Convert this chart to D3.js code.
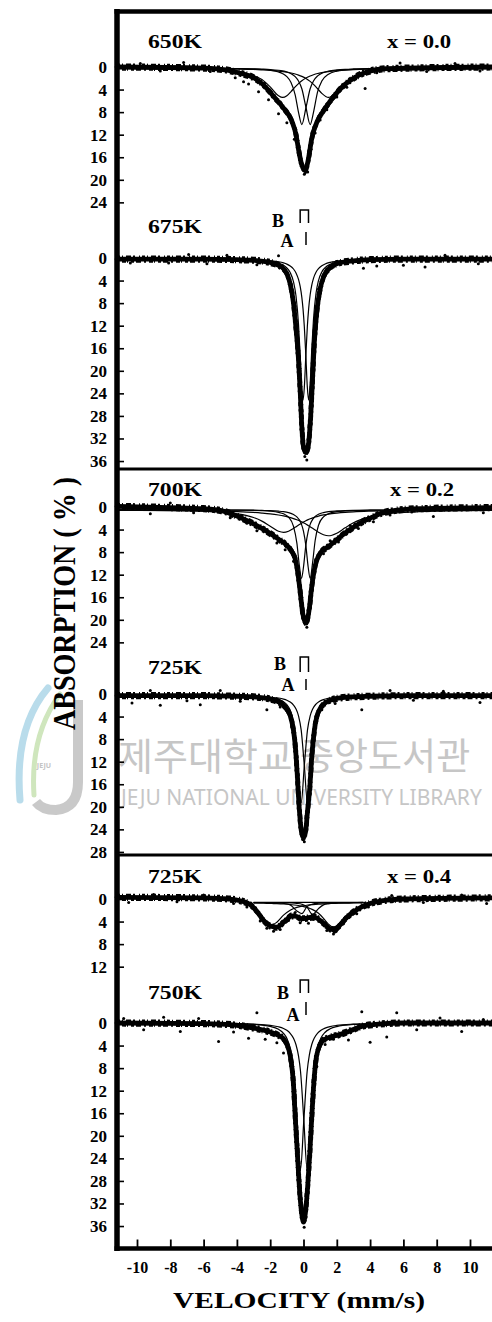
<!DOCTYPE html>
<html><head><meta charset="utf-8">
<script src="https://cdn.jsdelivr.net/npm/d3@7"></script>
<style>
html,body{margin:0;padding:0;background:#fff;}
svg{display:block;}
text{font-family:"Liberation Serif","Times New Roman",serif;font-weight:bold;fill:#000;}
</style></head><body>
<svg id="chart" width="492" height="1322"></svg>
<script>
// ---------------- DATA ----------------
const velocityTicks = [-10,-8,-6,-4,-2,0,2,4,6,8,10];
const tempLabels = ["650K","675K","700K","725K","725K","750K"];
const compLabels = ["x = 0.0","x = 0.2","x = 0.4"];
const p1Ticks = [0,4,8,12,16,20,24];
const p2Ticks = [0,4,8,12,16,20,24,28,32,36];
const p3Ticks = [0,4,8,12,16,20,24];
const p4Ticks = [0,4,8,12,16,20,24,28];
const p5Ticks = [0,4,8,12];
const p6Ticks = [0,4,8,12,16,20,24,28,32,36];

// Panel 1: 650K, x = 0.0
const p1TotalV = [-11.2,-6,-4.5,-3.8,-3,-2.4,-1.8,-1.2,-0.7,-0.45,-0.3,-0.1,0.1,0.3,0.5,0.8,1.17,1.6,2.2,3.0,3.8,5,11.4];
const p1TotalA = [0,0.2,0.6,1.1,1.9,3.2,5.2,7.3,9.6,12,14.6,17.4,18.4,16.2,12.6,9.8,7.9,6.1,3.9,2.0,0.9,0.3,0];
const p1V  = [-11.2,-6,-4,-3,-2.5,-2,-1.5,-1.25,-1,-0.75,-0.5,-0.3,-0.1,0.15,0.4,0.6,0.85,1.1,1.5,2,2.5,3,4,6,11.4];
const p1B1 = [0.05,0.22,0.61,1.28,2.03,3.33,4.89,5.2,4.89,4.16,3.33,2.74,2.24,1.76,1.40,1.18,0.96,0.80,0.61,0.45,0.35,0.27,0.18,0.10,0.03];
const p1B2 = [0.03,0.09,0.17,0.24,0.31,0.39,0.52,0.61,0.72,0.86,1.04,1.23,1.46,1.84,2.35,2.87,3.66,4.48,5.2,4.16,2.6,1.6,0.72,0.24,0.05];
const p1N1 = [0.01,0.04,0.09,0.17,0.24,0.38,0.68,0.98,1.51,2.55,4.74,7.83,10,6.98,3.66,2.28,1.38,0.91,0.53,0.32,0.21,0.15,0.09,0.04,0.01];
const p1N2 = [0.01,0.04,0.07,0.12,0.17,0.24,0.38,0.50,0.68,0.98,1.51,2.28,3.66,6.98,10,7.83,4.16,2.28,1.07,0.53,0.32,0.21,0.11,0.05,0.01];
const p1Base = 0.2;
const p1Pts = [[-9.8,-0.6],[-8.6,0.7],[-7.2,-0.8],[-5.6,0.8],[-4.1,1.9],[-3.6,2.6],[-3.3,3.0],[-2.7,4.4],[-2.1,5.8],[-1.5,8.3],[-1.0,9.9],[-0.55,12.8],[-0.2,17.0],[0.05,19.0],[0.25,18.6],[0.45,14.6],[0.7,11.7],[1.0,9.4],[1.4,7.6],[2.0,5.3],[2.6,3.6],[3.7,3.8],[4.4,1.0],[5.8,-0.7],[7.4,0.8],[9.1,-0.6],[10.6,0.7]];

// Panel 2: 675K, x = 0.0
const p2TotalV = [-11.2,-6,-4,-3,-2,-1.5,-1.2,-1,-0.8,-0.6,-0.45,-0.3,-0.2,-0.1,0,0.14,0.25,0.35,0.45,0.55,0.65,0.8,1.0,1.2,1.5,2,3,4,6,11.4];
const p2TotalA = [0.2,0.2,0.3,0.4,0.8,1.3,1.9,2.8,4.6,8.0,12.5,18,23.5,30,33.5,34.5,34,31.5,27,21,15,9.5,5.5,3.4,2.0,1.0,0.5,0.3,0.2,0.2];
const p2V  = [-11.2,-6,-4,-3,-2,-1.5,-1.2,-1,-0.8,-0.6,-0.45,-0.3,-0.2,-0.1,-0.03,0.05,0.14,0.23,0.31,0.4,0.5,0.6,0.75,0.9,1.1,1.3,1.6,2,3,4,6,11.4];
const p2A1 = [0.01,0.04,0.10,0.18,0.40,0.70,1.09,1.56,2.38,4.03,6.54,11.54,17.1,23.2,25,22.7,17.1,12.0,8.77,6.31,4.55,3.40,2.33,1.69,1.17,0.85,0.57,0.37,0.17,0.10,0.04,0.01];
const p2A2 = [0.01,0.04,0.08,0.14,0.29,0.47,0.67,0.88,1.21,1.75,2.44,3.60,4.84,6.78,8.77,12.0,17.1,22.7,25,22.1,15.8,10.66,6.10,3.81,2.27,1.50,0.91,0.54,0.21,0.11,0.05,0.01];
const p2Base = 0.2;
const p2Pts = [[-10.4,0.9],[-8.1,0.9],[-6.9,-0.6],[-5.8,1.0],[-4.6,-0.5],[-2.8,1.2],[-1.5,-0.4],[-0.75,4.5],[-0.5,8.5],[-0.35,13],[-0.22,20],[-0.12,26],[-0.05,31],[0.08,35.2],[0.2,35.8],[0.32,32],[0.42,27],[0.5,22],[0.6,15],[0.72,10],[0.9,5.5],[1.4,1.9],[3.6,1.8],[4.4,1.4],[6.0,1.3],[7.3,1.6],[8.5,-0.5],[10.5,1.0]];

// Panel 3: 700K, x = 0.2
const p3TotalV = [-11.2,-8,-6,-5,-4,-3,-2.5,-2,-1.5,-1.0,-0.7,-0.5,-0.35,-0.2,-0.05,0.15,0.35,0.5,0.7,1.0,1.4,1.8,2.2,2.6,3.0,3.5,4,4.6,5.5,7,11.4];
const p3TotalA = [-0.1,0.1,0.3,0.6,1.6,3.0,3.8,4.7,5.7,6.8,7.9,9.2,11.5,15.0,18.8,20.6,18.0,14.0,10.4,8.2,7.2,6.3,5.3,4.4,3.6,2.7,2.0,1.2,0.6,0.3,0.1];
const p3V  = [-11.2,-7,-5,-4,-3,-2.5,-2,-1.5,-1.2,-0.9,-0.6,-0.4,-0.25,-0.12,0,0.14,0.28,0.4,0.55,0.7,0.9,1.2,1.5,2,2.5,3,4,5,7,11.4];
const p3B1 = [0.07,0.19,0.42,0.71,1.37,2.0,2.90,3.80,4.0,3.80,3.30,2.90,2.61,2.37,2.16,1.94,1.74,1.59,1.42,1.28,1.11,0.91,0.75,0.57,0.44,0.35,0.24,0.17,0.10,0.04];
const p3B2 = [0.06,0.14,0.23,0.32,0.46,0.57,0.71,0.92,1.08,1.29,1.55,1.77,1.95,2.12,2.30,2.52,2.77,2.99,3.28,3.58,3.97,4.42,4.6,4.14,3.19,2.30,1.22,0.71,0.32,0.10];
const p3N1 = [0.01,0.02,0.04,0.06,0.11,0.15,0.24,0.45,0.71,1.30,2.93,5.86,9.86,12.15,10.14,6.3,3.81,2.58,1.70,1.19,0.79,0.49,0.32,0.20,0.13,0.09,0.05,0.04,0.02,0.01];
const p3N2 = [0.01,0.02,0.03,0.05,0.07,0.11,0.15,0.24,0.33,0.50,0.83,1.24,1.79,2.58,3.81,6.3,10.14,12.15,9.28,5.44,2.75,1.24,0.69,0.33,0.20,0.13,0.07,0.05,0.02,0.01];
const p3Base = 0.5;
const p3Pts = [[-9.2,1.2],[-8,-0.7],[-6.6,1.0],[-5.2,0.4],[-4.4,1.9],[-3.4,2.9],[-2.8,4.2],[-2.2,4.0],[-1.6,6.4],[-1.1,7.6],[-0.8,7.2],[-0.6,9.6],[-0.3,13.5],[-0.1,18.0],[0.05,20.5],[0.2,21.3],[0.3,19.5],[0.45,15.5],[0.6,12.5],[0.85,9.3],[1.2,8.3],[1.6,6.0],[2.1,6.2],[2.8,3.3],[3.3,3.8],[4.2,2.6],[5.2,1.4],[6.5,0.9],[7.8,1.7],[9.4,0.4],[10.8,1.0]];

// Panel 4: 725K, x = 0.2
const p4TotalV = [-11.2,-6,-4,-3,-2,-1.5,-1.2,-1,-0.8,-0.6,-0.5,-0.37,-0.25,-0.12,0.0,0.12,0.25,0.38,0.5,0.65,0.8,1.0,1.3,1.7,2.2,3,4,6,11.4];
const p4TotalA = [0.3,0.3,0.4,0.5,0.9,1.4,2.0,2.7,3.8,6.5,9.0,14.5,20.5,24.5,25.5,24.5,20.5,16.5,11,6.5,4.0,2.6,1.6,1.0,0.7,0.5,0.4,0.3,0.3];
const p4V  = [-11.2,-6,-4,-3,-2,-1.5,-1.2,-1,-0.8,-0.6,-0.45,-0.3,-0.14,0.05,0.24,0.4,0.55,0.75,0.95,1.15,1.4,1.7,2.2,3,4,6,11.4];
const p4A1 = [0.01,0.04,0.09,0.16,0.36,0.67,1.08,1.59,2.55,4.60,7.85,13.78,19,12.39,6.06,3.58,2.36,1.49,1.02,0.74,0.53,0.37,0.23,0.13,0.07,0.03,0.01];
const p4A2 = [0.01,0.03,0.07,0.12,0.25,0.41,0.60,0.80,1.12,1.66,2.36,3.58,6.06,12.39,19,13.78,7.85,3.92,2.25,1.43,0.91,0.58,0.33,0.17,0.09,0.04,0.01];
const p4Base = 0.3;
const p4Pts = [[-10.3,1.6],[-9.2,-0.6],[-8.6,2.0],[-7.0,1.2],[-6.2,1.9],[-5.0,-0.6],[-3.8,1.3],[-2.2,2.8],[-1.4,2.3],[-0.95,3.3],[-0.7,5.8],[-0.55,9.5],[-0.42,13.5],[-0.3,18.5],[-0.18,22.5],[-0.05,25.8],[0.05,26.2],[0.15,24],[0.3,19],[0.45,12.5],[0.6,7],[0.75,4.6],[1.1,2.8],[1.9,1.7],[3.5,2.8],[5.2,-0.6],[6.6,1.1],[8.4,-0.5],[10.6,1.5]];

// Panel 5: 725K, x = 0.4
const p5TotalV = [-11.2,-6,-4.5,-3.8,-3.2,-2.8,-2.4,-2.0,-1.6,-1.3,-1.0,-0.7,-0.4,-0.1,0.2,0.5,0.8,1.2,1.6,1.9,2.2,2.6,3.0,3.5,4,5,6,11.4];
const p5TotalA = [-0.3,-0.2,0.0,0.3,1.0,2.2,3.8,4.8,5.0,4.4,3.6,3.0,3.1,3.5,3.4,3.2,3.4,4.3,5.3,5.5,4.6,3.3,2.3,1.4,0.8,0.2,0.0,-0.2];
const p5V  = [-3,-2.5,-2.2,-1.9,-1.6,-1.2,-0.8,-0.4,-0.1,0.2,0.55,0.9,1.2,1.5,1.8,2.1,2.5,3,3.6];
const p5B1 = [1.38,2.56,3.51,4.0,3.51,2.26,1.38,0.88,0.66,0.51,0.39,0.30,0.25,0.21,0.18,0.15,0.13,0.10,0.08];
const p5B2 = [0.12,0.15,0.17,0.20,0.23,0.29,0.38,0.51,0.66,0.88,1.28,1.94,2.82,3.86,4.4,3.86,2.49,1.35,0.73];
const p5N1 = [0.02,0.04,0.05,0.07,0.10,0.18,0.44,1.52,1.98,0.79,0.30,0.15,0.10,0.07,0.05,0.04,0.03,0.02,0.01];
const p5N2 = [0.02,0.02,0.03,0.03,0.04,0.06,0.10,0.18,0.34,0.79,2.14,1.1,0.44,0.22,0.13,0.08,0.05,0.03,0.02];
const p5Base = 0.6;
const p5Pts = [[-10.5,0.6],[-9.0,-0.8],[-7.6,0.5],[-6.0,-0.7],[-4.2,0.8],[-3.4,1.4],[-2.6,3.9],[-2.2,5.2],[-1.8,5.7],[-1.4,5.4],[-0.9,3.8],[-0.5,2.4],[-0.2,4.2],[0.3,4.3],[0.7,2.8],[1.0,4.0],[1.4,5.6],[1.8,6.2],[2.4,4.4],[3.2,2.6],[3.9,1.4],[5.3,-0.6],[7.2,0.6],[9.5,-0.7],[11.0,0.8]];

// Panel 6: 750K, x = 0.4
const p6TotalV = [-11.2,-6,-4,-3,-2,-1.5,-1.2,-1,-0.8,-0.6,-0.5,-0.37,-0.25,-0.12,0,0.12,0.25,0.38,0.5,0.6,0.75,0.9,1.1,1.5,2,2.8,3.5,4.5,6,11.4];
const p6TotalA = [0,0.1,0.4,0.9,1.6,2.2,2.8,3.8,5.8,11,16.5,23,29,33.5,35.3,33.5,29,23,16.5,11.5,6.5,4.5,3.3,2.6,2.2,1.4,0.6,0.2,0,0];
const p6V  = [-11.2,-6,-4,-3,-2,-1.5,-1.2,-1,-0.8,-0.6,-0.45,-0.3,-0.18,0.02,0.22,0.35,0.5,0.65,0.85,1.05,1.3,1.6,2,3,4,6,11.4];
const p6A1 = [0.02,0.06,0.14,0.25,0.60,1.12,1.82,2.71,4.41,8.0,13.47,21.96,26,17.22,8.55,5.68,3.77,2.66,1.79,1.28,0.90,0.63,0.42,0.20,0.12,0.05,0.02];
const p6A2 = [0.02,0.05,0.11,0.20,0.41,0.67,0.97,1.30,1.82,2.71,3.86,5.84,8.55,17.22,26,21.39,13.0,7.74,4.29,2.66,1.64,1.03,0.63,0.26,0.14,0.06,0.02];
const p6Base = 0;
const p6Pts = [[-10.8,-0.8],[-9.6,1.2],[-8.4,-1.0],[-7.4,1.5],[-6.3,-0.8],[-5.1,3.3],[-4.2,1.6],[-3.3,2.7],[-2.8,-1.8],[-2.3,2.9],[-1.6,3.5],[-1.2,5.3],[-0.9,4.6],[-0.7,8.2],[-0.55,13],[-0.42,20],[-0.3,26],[-0.18,31],[-0.06,34.5],[0.04,36.2],[0.15,34.5],[0.3,27],[0.45,20],[0.55,14],[0.7,9],[0.8,7.7],[1.0,4.2],[1.3,3.8],[1.8,2.9],[2.7,3.0],[3.5,-2.0],[4.0,3.4],[5.0,2.5],[5.6,-1.8],[6.8,1.2],[8.2,-0.9],[9.5,1.5],[10.8,-0.6]];

// site markers (B doublet, A singlet) velocities
const markerB = [-0.2, 0.3];
const markerA = [0.15];

// ---------------- LAYOUT ----------------
const svg = d3.select("#chart");
const W = 492, H = 1322;
const axisX = 117, topY = 11.5, bottomY = 1248.5;
const pxPerPct = 5.64;
const x = d3.scaleLinear().domain([-10, 10]).range([137, 470]);

const panels = [
  {y0:67,   labelY:48,  comp:0, ticks:p1Ticks, tV:p1TotalV, tA:p1TotalA, cV:p1V, comps:[p1B1,p1B2,p1N1,p1N2], base:p1Base, pts:p1Pts},
  {y0:258,  labelY:233, comp:null, ticks:p2Ticks, tV:p2TotalV, tA:p2TotalA, cV:p2V, comps:[p2A1,p2A2], base:p2Base, pts:p2Pts, mk:{bx:278,by:227,ax:287,ay:247,b0:210,b1:223,a0:232,a1:245}},
  {y0:507,  labelY:496, comp:1, ticks:p3Ticks, tV:p3TotalV, tA:p3TotalA, cV:p3V, comps:[p3B1,p3B2,p3N1,p3N2], base:p3Base, pts:p3Pts},
  {y0:694,  labelY:674, comp:null, ticks:p4Ticks, tV:p4TotalV, tA:p4TotalA, cV:p4V, comps:[p4A1,p4A2], base:p4Base, pts:p4Pts, mk:{bx:280,by:670,ax:288,ay:691,b0:657,b1:672,a0:679,a1:690}},
  {y0:899,  labelY:883, comp:2, ticks:p5Ticks, tV:p5TotalV, tA:p5TotalA, cV:p5V, comps:[p5B1,p5B2,p5N1,p5N2], base:p5Base, pts:p5Pts, baseLine:true},
  {y0:1023, labelY:999, comp:null, ticks:p6Ticks, tV:p6TotalV, tA:p6TotalA, cV:p6V, comps:[p6A1,p6A2], base:p6Base, pts:p6Pts, mk:{bx:283,by:999,ax:293,ay:1021,b0:980,b1:993,a0:1002,a1:1015}}
];
const compX = [387, 390, 387];

// ---------------- WATERMARK (behind) ----------------
const wm = svg.append("g").attr("class","watermark");
wm.append("path").attr("d","M48 688 Q14 728 20 800").attr("fill","none").attr("stroke","#b9dceb").attr("stroke-width",7).attr("stroke-linecap","round");
wm.append("path").attr("d","M60 694 Q30 735 34 795").attr("fill","none").attr("stroke","#cfe6bd").attr("stroke-width",5).attr("stroke-linecap","round");
wm.append("path").attr("d","M78 700 L78 782 Q78 808 56 810 Q42 810 36 802").attr("fill","none").attr("stroke","#c9c9c9").attr("stroke-width",10);
wm.append("text").attr("x",44).attr("y",768).attr("text-anchor","middle").attr("font-size",7).style("fill","#c4c4c4").style("font-family","Noto Sans").text("JEJU");
wm.append("text").attr("x",118).attr("y",770).style("font-family","'Noto Sans CJK KR'").style("font-weight","normal").style("fill","#c6c6c6").attr("font-size",38).text("제주대학교");
wm.append("text").attr("x",300).attr("y",770).style("font-family","'Noto Sans CJK KR'").style("font-weight","normal").style("fill","#c6c6c6").attr("font-size",37).text("중앙도서관");
wm.append("text").attr("x",121).attr("y",805).style("font-family","'Noto Sans'").style("font-weight","normal").style("fill","#c6c6c6").attr("font-size",21).text("JEJU NATIONAL UNIVERSITY LIBRARY");

// ---------------- PANELS ----------------
panels.forEach((p, i) => {
  const y = d3.scaleLinear().domain([0, 36]).range([p.y0, p.y0 + 36 * pxPerPct]);
  const g = svg.append("g");
  const line = d3.line().x(d => x(d[0])).y(d => y(d[1])).curve(d3.curveMonotoneX);
  const total = p.tV.map((v, k) => [v, p.tA[k]]);

  // data band (dense measured points)
  g.append("path").attr("d", line(total)).attr("fill","none").attr("stroke","#000")
    .attr("stroke-width",4.8).attr("stroke-linejoin","round").attr("stroke-linecap","round");
  g.append("path").attr("d", line(total)).attr("transform","translate(0,-2.5)").attr("fill","none").attr("stroke","#000")
    .attr("stroke-width",2.2).attr("stroke-dasharray","3 2 1 3 5 2 2 4 1 2");
  g.append("path").attr("d", line(total)).attr("transform","translate(0,2.5)").attr("fill","none").attr("stroke","#000")
    .attr("stroke-width",2.2).attr("stroke-dasharray","2 3 4 1 1 3 3 2 5 3");
  g.append("path").attr("d", line(total)).attr("transform","translate(-1.6,0)").attr("fill","none").attr("stroke","#000")
    .attr("stroke-width",1.8).attr("stroke-dasharray","4 3 2 5 1 4");
  g.append("path").attr("d", line(total)).attr("transform","translate(1.6,0)").attr("fill","none").attr("stroke","#000")
    .attr("stroke-width",1.8).attr("stroke-dasharray","1 4 3 2 5 3");

  // fitted components
  p.comps.forEach(c => {
    const pts = p.cV.map((v, k) => [v, c[k] + p.base]);
    g.append("path").attr("d", line(pts)).attr("fill","none").attr("stroke","#000").attr("stroke-width",1.2);
  });
  if (p.baseLine) {
    const ext = d3.extent(p.cV);
    g.append("path").attr("d", line([[ext[0], p.base],[ext[1], p.base]])).attr("fill","none").attr("stroke","#000").attr("stroke-width",1.3);
  }

  // scattered data points
  g.selectAll("circle").data(p.pts).join("circle")
    .attr("cx", d => x(d[0])).attr("cy", d => y(d[1])).attr("r",1.5).attr("fill","#000");

  // y axis ticks & labels
  const ax = d3.axisLeft(y).tickValues(p.ticks).tickSizeInner(-7).tickSizeOuter(0).tickPadding(10).tickFormat(d3.format("d"));
  const ag = svg.append("g").attr("transform",`translate(${axisX},0)`).call(ax);
  ag.select(".domain").remove();
  ag.selectAll(".tick line").attr("stroke","#000").attr("stroke-width",1.6);
  ag.selectAll(".tick text").attr("font-size",17).style("font-family","'Liberation Serif',serif").style("font-weight","bold");

  // temperature label
  svg.append("text").attr("x",148).attr("y",p.labelY).attr("font-size",19)
    .attr("textLength",54).attr("lengthAdjust","spacingAndGlyphs").text(tempLabels[i]);
  if (p.comp !== null) {
    svg.append("text").attr("x",compX[p.comp]).attr("y",p.labelY).attr("font-size",19)
      .attr("textLength",64).attr("lengthAdjust","spacingAndGlyphs").text(compLabels[p.comp]);
  }
  // site markers
  if (p.mk) {
    const m = p.mk;
    svg.append("text").attr("x",m.bx).attr("y",m.by).attr("text-anchor","middle").attr("font-size",18).text("B");
    svg.append("text").attr("x",m.ax).attr("y",m.ay).attr("text-anchor","middle").attr("font-size",18).text("A");
    svg.append("path").attr("d",`M${x(markerB[0])},${m.b1} L${x(markerB[0])},${m.b0} L${x(markerB[1])},${m.b0} L${x(markerB[1])},${m.b1}`)
      .attr("fill","none").attr("stroke","#000").attr("stroke-width",1.5);
    svg.append("path").attr("d",`M${x(markerA[0])},${m.a0} L${x(markerA[0])},${m.a1}`)
      .attr("fill","none").attr("stroke","#000").attr("stroke-width",1.5);
  }
});

// ---------------- FRAME ----------------
const frame = svg.append("g").attr("stroke","#000").attr("fill","none");
frame.append("line").attr("x1",axisX-2.5).attr("x2",W+10).attr("y1",topY).attr("y2",topY).attr("stroke-width",4.5);
frame.append("line").attr("x1",axisX).attr("x2",W+10).attr("y1",469).attr("y2",469).attr("stroke-width",3);
frame.append("line").attr("x1",axisX).attr("x2",W+10).attr("y1",855).attr("y2",855).attr("stroke-width",3);
frame.append("line").attr("x1",axisX).attr("x2",axisX).attr("y1",topY-2.5).attr("y2",bottomY+2.5).attr("stroke-width",5.5);

// x axis
const xa = d3.axisBottom(x).tickValues(velocityTicks).tickSizeInner(-9).tickSizeOuter(0).tickPadding(13).tickFormat(d => String(d));
const xg = svg.append("g").attr("transform",`translate(0,${bottomY})`).call(xa);
xg.select(".domain").remove();
xg.selectAll(".tick line").attr("stroke","#000").attr("stroke-width",1.8);
xg.selectAll(".tick text").attr("font-size",16).style("font-family","'Liberation Serif',serif").style("font-weight","bold");
frame.append("line").attr("x1",axisX-2.5).attr("x2",W+10).attr("y1",bottomY).attr("y2",bottomY).attr("stroke-width",4.5);

// axis titles
svg.append("text").attr("x",299).attr("y",1308).attr("text-anchor","middle").attr("font-size",23)
  .attr("textLength",252).attr("lengthAdjust","spacingAndGlyphs").text("VELOCITY (mm/s)");
svg.append("text").attr("transform","translate(75,603.5) rotate(-90)").attr("text-anchor","middle").attr("font-size",32)
  .attr("textLength",253).attr("lengthAdjust","spacingAndGlyphs").text("ABSORPTION ( % )");
</script>
</body></html>
